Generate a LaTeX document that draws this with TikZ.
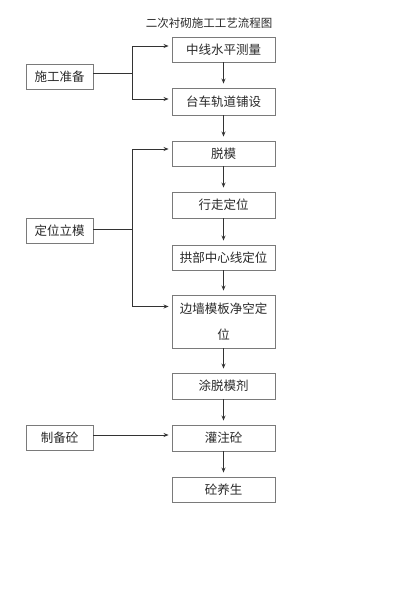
\documentclass[tikz,border=0pt]{standalone}
\usepackage{fontspec}
\setmainfont{Noto Sans CJK SC}
\usetikzlibrary{arrows.meta}
\definecolor{boxc}{HTML}{7A7A7A}
\definecolor{linec}{HTML}{333333}
\definecolor{txtc}{HTML}{2A2A2A}
\tikzset{
  mainbox/.style={draw=boxc, line width=0.9pt, minimum width=103pt, minimum height=25pt, inner sep=0pt, font=\fontsize{12.5}{15}\selectfont, text=txtc, align=center},
  sidebox/.style={draw=boxc, line width=0.9pt, minimum width=67pt, minimum height=25pt, inner sep=0pt, font=\fontsize{12.5}{15}\selectfont, text=txtc},
  ln/.style={draw=linec, line width=0.8pt},
  ar/.style={ln, -{Stealth[length=5pt,width=4pt]}, shorten >=3pt}
}
\begin{document}
\begin{tikzpicture}[x=1pt,y=-1pt]
\useasboundingbox (0,0) rectangle (400,607);
\fill[white] (0,0) rectangle (400,607);
\node[font=\fontsize{11.5}{14}\selectfont, text=txtc] (title) at (209,23) {二次衬砌施工工艺流程图};
\node[mainbox] (b1) at (223.5,49.5) {中线水平测量};
\node[mainbox, minimum height=27pt] (b2) at (223.5,101.5) {台车轨道铺设};
\node[mainbox] (b3) at (223.5,153.5) {脱模};
\node[mainbox, minimum height=26pt] (b4) at (223.5,205) {行走定位};
\node[mainbox] (b5) at (223.5,257.5) {拱部中心线定位};
\node[mainbox, minimum height=53pt, font=\fontsize{12.5}{26}\selectfont] (b6) at (223.5,321.5) {边墙模板净空定\\位};
\node[mainbox, minimum height=26pt] (b7) at (223.5,386) {涂脱模剂};
\node[mainbox, minimum height=26pt] (b8) at (223.5,438) {灌注砼};
\node[mainbox] (b9) at (223.5,489.5) {砼养生};
\node[sidebox] (l1) at (59.5,76.5) {施工准备};
\node[sidebox] (l2) at (59.5,231) {定位立模};
\node[sidebox] (l3) at (59.5,438) {制备砼};
% vertical flow
\foreach \a/\b in {b1/b2,b2/b3,b3/b4,b4/b5,b5/b6,b6/b7,b7/b8,b8/b9}
  \draw[ar, shorten >=4pt] (\a.south) -- (\b.north);
% group 1
\coordinate (j1) at (132,73);
\draw[ln] ([yshift=3.5pt]l1.east) -- (j1);
\draw[ar] (j1) |- ([yshift=3.5pt]b1.west);
\draw[ar] (j1) |- ([yshift=2.5pt]b2.west);
% group 2
\coordinate (j2) at (132,229);
\draw[ln] ([yshift=2pt]l2.east) -- (j2);
\draw[ar] (j2) |- ([yshift=4.5pt]b3.west);
\draw[ar] (j2) |- ([yshift=15pt]b6.west);
% group 3
\draw[ar] ([yshift=3pt]l3.east) -- ([yshift=3pt]b8.west);
\end{tikzpicture}
\end{document}
